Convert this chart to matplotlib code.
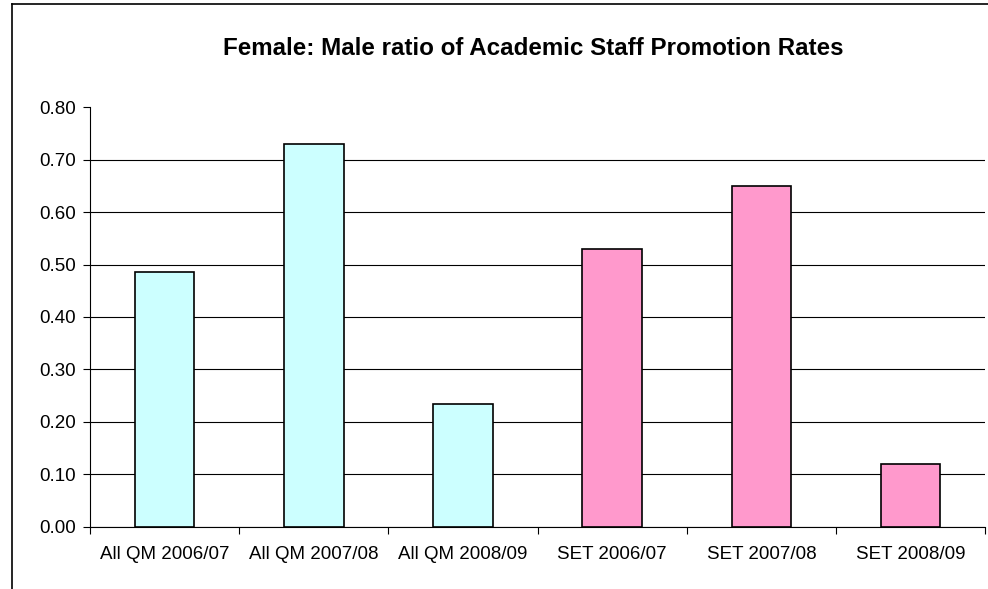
import matplotlib.pyplot as plt
from matplotlib.lines import Line2D

categories = ["All QM 2006/07", "All QM 2007/08", "All QM 2008/09",
              "SET 2006/07", "SET 2007/08", "SET 2008/09"]
ratios = [0.485, 0.73, 0.235, 0.53, 0.65, 0.12]
bar_colors = ["#CCFFFF"] * 3 + ["#FF99CC"] * 3

plt.rcParams["font.family"] = ["Liberation Sans", "DejaVu Sans"]

fig = plt.figure(figsize=(9.88, 5.89), dpi=100)
ax = fig.add_axes([0.0911, 0.1053, 0.906, 0.713])

x = list(range(len(categories)))
ax.bar(x, ratios, width=0.4, color=bar_colors, edgecolor="black", linewidth=1.2, zorder=3)

ax.set_xlim(-0.5, len(categories) - 0.5)
ax.set_ylim(0, 0.8)
ax.set_yticks([i / 10 for i in range(9)])
ax.set_yticklabels([f"{i / 10:.2f}" for i in range(9)], fontsize=13.5)
ax.yaxis.grid(True, color="black", linewidth=0.8, zorder=0)
# no gridline along the top of the plot area
ax.get_ygridlines()[-1].set_visible(False)

# category labels between boundary ticks
ax.set_xticks([i - 0.5 for i in range(len(categories) + 1)])
ax.set_xticklabels([])
ax.set_xticks(x, minor=True)
ax.set_xticklabels(categories, minor=True, fontsize=13.5)
ax.tick_params(axis="x", which="minor", length=0, pad=13.5)
ax.tick_params(axis="x", which="major", length=5, direction="out", color="black")
ax.tick_params(axis="y", length=5, direction="out", pad=5)

for side in ["top", "right"]:
    ax.spines[side].set_visible(False)
ax.spines["left"].set_color("black")
ax.spines["bottom"].set_color("black")

fig.text(0.54, 0.918, "Female: Male ratio of Academic Staff Promotion Rates",
         ha="center", va="center", fontsize=17.4, fontweight="bold")

# chart area border (partly clipped in the original)
fig.add_artist(Line2D([0.0125, 0.0125], [0, 0.9935], color="black", linewidth=1.2))
fig.add_artist(Line2D([0.0125, 1], [0.9935, 0.9935], color="black", linewidth=1.2))

fig.savefig("out.png", dpi=100)
